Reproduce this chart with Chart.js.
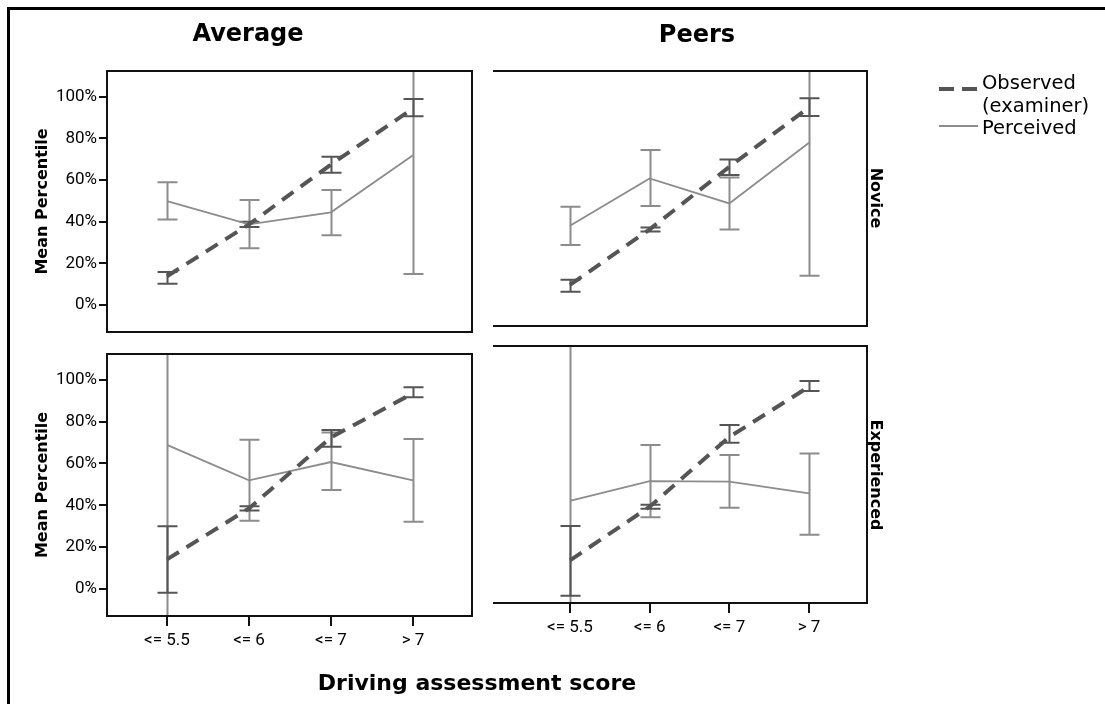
<!DOCTYPE html>
<html>
<head>
<meta charset="utf-8">
<title>Mean percentile by driving assessment score</title>
<script src="https://cdn.jsdelivr.net/npm/chart.js@4.4.1/dist/chart.umd.min.js"></script>
<style>
  html, body { margin: 0; padding: 0; background: #fff; }
  #page {
    position: relative;
    width: 1105px;
    height: 704px;
    overflow: hidden;
    font-family: "DejaVu Sans", sans-serif;
    color: #000;
  }
  #page canvas { position: absolute; left: 0; top: 0; }
  .outer {
    position: absolute;
    left: 7px; top: 7px; right: 0; bottom: 0;
    border-top: 3px solid #000;
    border-left: 3px solid #000;
  }
  .txt {
    position: absolute;
    white-space: nowrap;
    line-height: 1;
    transform: translate(-50%, -50%);
  }
  .col-title { font-size: 24px; font-weight: bold; }
  .row-title { font-size: 16px; font-weight: bold; transform: translate(-50%, -50%) rotate(90deg); }
  .axis-title { font-size: 22px; font-weight: bold; }
  .legend-text { font-size: 19.5px; transform: translate(0, -50%); }
</style>
</head>
<body>
<div id="page">
  <div class="outer"></div>

  <canvas id="novice-average" width="1105" height="704"></canvas>
  <canvas id="novice-peers" width="1105" height="704"></canvas>
  <canvas id="experienced-average" width="1105" height="704"></canvas>
  <canvas id="experienced-peers" width="1105" height="704"></canvas>

  <div class="txt col-title" style="left:248px; top:33px;">Average</div>
  <div class="txt col-title" style="left:697px; top:34px;">Peers</div>
  <div class="txt row-title" style="left:876px; top:198px;">Novice</div>
  <div class="txt row-title" style="left:876px; top:475px;">Experienced</div>
  <div class="txt axis-title" style="left:477px; top:683px;">Driving assessment score</div>

  <svg style="position:absolute; left:937px; top:80px;" width="46" height="52">
    <line x1="2" y1="9" x2="41" y2="9" stroke="#555" stroke-width="4" stroke-dasharray="15 8"/>
    <line x1="2" y1="46" x2="41" y2="46" stroke="#8c8c8c" stroke-width="2"/>
  </svg>
  <div class="txt legend-text" style="left:982px; top:83px;">Observed</div>
  <div class="txt legend-text" style="left:982px; top:106px;">(examiner)</div>
  <div class="txt legend-text" style="left:982px; top:128px;">Perceived</div>
</div>

<script>
// Score bands along the x axis, percentile ticks on the y axis
const scoreBands = ['<= 5.5', '<= 6', '<= 7', '> 7'];
const percentTicks = [0, 20, 40, 60, 80, 100];

// Novice drivers compared with the average driver
const noviceAvgObserved   = [13.8, 38.7, 67.5, 94.4];
const noviceAvgObservedLo = [10.2, 37.5, 63.5, 90.7];
const noviceAvgObservedHi = [15.8, 40.0, 71.2, 99.0];
const noviceAvgPerceived   = [49.9, 38.7, 44.5, 71.9];
const noviceAvgPerceivedLo = [41.0, 27.2, 33.5, 14.9];
const noviceAvgPerceivedHi = [58.9, 50.4, 55.2, 128.9];

// Novice drivers compared with their peers
const novicePeerObserved   = [7.2, 34.5, 65.3, 94.5];
const novicePeerObservedLo = [3.8, 33.5, 61.2, 90.3];
const novicePeerObservedHi = [9.7, 35.5, 68.9, 99.0];
const novicePeerPerceived   = [36.3, 59.6, 47.3, 77.1];
const novicePeerPerceivedLo = [26.8, 46.0, 34.5, 11.7];
const novicePeerPerceivedHi = [45.6, 73.5, 60.0, 142.5];

// Experienced drivers compared with the average driver
const expAvgObserved   = [14.1, 38.5, 72.5, 93.6];
const expAvgObservedLo = [-1.9, 37.5, 68.0, 91.7];
const expAvgObservedHi = [30.0, 39.5, 76.0, 96.5];
const expAvgPerceived   = [68.9, 51.9, 60.7, 51.9];
const expAvgPerceivedLo = [-21.0, 32.6, 47.3, 32.1];
const expAvgPerceivedHi = [158.8, 71.3, 74.8, 71.7];

// Experienced drivers compared with their peers
const expPeerObserved   = [7.8, 34.0, 68.0, 92.5];
const expPeerObservedLo = [-9.5, 33.0, 65.2, 90.4];
const expPeerObservedHi = [24.6, 35.0, 73.8, 95.3];
const expPeerPerceived   = [36.8, 46.5, 46.2, 40.5];
const expPeerPerceivedLo = [-48.0, 28.8, 33.5, 20.3];
const expPeerPerceivedHi = [121.6, 64.1, 59.2, 60.0];

const FONT = 'DejaVu Sans';
const TICK_FONT = 'Roboto';
const OBSERVED_COLOR = '#555555';
const PERCEIVED_COLOR = '#8c8c8c';
const FRAME_COLOR = '#111111';

// Vertical error bars with caps, clipped to the plot box
const errorBars = {
    id: 'errorBars',
    beforeDatasetsDraw(chart) {
        const { ctx, chartArea } = chart;
        const xScale = chart.scales.x;
        const yScale = chart.scales.y;
        const clampY = (v) => Math.min(chartArea.bottom, Math.max(chartArea.top, yScale.getPixelForValue(v)));
        const capHalf = 10;

        // last dataset first so the observed bars sit on top
        for (let d = chart.data.datasets.length - 1; d >= 0; d--) {
            const ds = chart.data.datasets[d];
            if (!ds.errLo) continue;
            ctx.save();
            ctx.strokeStyle = ds.errColor;
            ctx.lineWidth = 2;
            ds.errLo.forEach((lo, i) => {
                const x = Math.round(xScale.getPixelForValue(i)) + 0.5;
                const yLo = clampY(lo);
                const yHi = clampY(ds.errHi[i]);
                ctx.beginPath();
                ctx.moveTo(x, yLo);
                ctx.lineTo(x, yHi);
                ctx.moveTo(x - capHalf, yLo);
                ctx.lineTo(x + capHalf, yLo);
                ctx.moveTo(x - capHalf, yHi);
                ctx.lineTo(x + capHalf, yHi);
                ctx.stroke();
            });
            ctx.restore();
        }
    }
};

// Box round the plot area; the right-hand column has no left edge
const panelFrame = {
    id: 'panelFrame',
    afterDraw(chart, args, opts) {
        const { ctx, chartArea: a } = chart;
        const sides = opts.sides || ['top', 'right', 'bottom', 'left'];
        ctx.save();
        ctx.strokeStyle = FRAME_COLOR;
        ctx.lineWidth = 2;
        ctx.beginPath();
        if (sides.includes('top'))    { ctx.moveTo(a.left, a.top);     ctx.lineTo(a.right, a.top); }
        if (sides.includes('right'))  { ctx.moveTo(a.right, a.top - 1); ctx.lineTo(a.right, a.bottom + 1); }
        if (sides.includes('bottom')) { ctx.moveTo(a.left, a.bottom);  ctx.lineTo(a.right, a.bottom); }
        if (sides.includes('left'))   { ctx.moveTo(a.left, a.top - 1); ctx.lineTo(a.left, a.bottom + 1); }
        ctx.stroke();
        ctx.restore();
    }
};

function toPoints(values) {
    return values.map((y, i) => ({ x: i, y: y }));
}

function createPanel(canvasId, series, layout) {
    const datasets = [
        {
            label: 'Observed (examiner)',
            data: toPoints(series.observed),
            borderColor: OBSERVED_COLOR,
            borderWidth: 4,
            borderDash: [14, 9],
            pointRadius: 0,
            tension: 0,
            errLo: series.observedLo,
            errHi: series.observedHi,
            errColor: OBSERVED_COLOR
        },
        {
            label: 'Perceived',
            data: toPoints(series.perceived),
            borderColor: PERCEIVED_COLOR,
            borderWidth: 1.8,
            pointRadius: 0,
            tension: 0,
            errLo: series.perceivedLo,
            errHi: series.perceivedHi,
            errColor: PERCEIVED_COLOR
        }
    ];

    const tickGrid = {
        display: true,
        drawOnChartArea: false,
        drawTicks: true,
        color: FRAME_COLOR,
        lineWidth: 2
    };

    const config = {
        type: 'line',
        data: { datasets: datasets },
        options: {
            responsive: false,
            animation: false,
            events: [],
            layout: { padding: layout.padding },
            plugins: {
                legend: { display: false },
                tooltip: { enabled: false },
                panelFrame: { sides: layout.sides }
            },
            scales: {
                x: {
                    type: 'linear',
                    display: layout.showX,
                    min: layout.xMin,
                    max: layout.xMax,
                    afterBuildTicks: (scale) => {
                        scale.ticks = scoreBands.map((_, i) => ({ value: i }));
                    },
                    afterFit: (scale) => { scale.height = layout.showX ? 40 : 0; },
                    ticks: {
                        callback: (value) => scoreBands[value],
                        font: { family: TICK_FONT, size: 17 },
                        color: '#000',
                        padding: 5,
                        maxRotation: 0,
                        autoSkip: false
                    },
                    grid: Object.assign({}, tickGrid, { tickLength: 10 }),
                    border: { display: false }
                },
                y: {
                    type: 'linear',
                    display: layout.showY,
                    min: -13,
                    max: 112.4,
                    afterBuildTicks: (scale) => {
                        scale.ticks = percentTicks.map(v => ({ value: v }));
                    },
                    afterFit: (scale) => { scale.width = layout.showY ? 87 : 0; },
                    ticks: {
                        callback: (value) => value + '%',
                        font: { family: TICK_FONT, size: 17 },
                        color: '#000',
                        padding: 2
                    },
                    grid: Object.assign({}, tickGrid, { tickLength: 8 }),
                    border: { display: false },
                    title: {
                        display: true,
                        text: 'Mean Percentile',
                        color: '#000',
                        font: { family: FONT, size: 16, weight: 'bold' },
                        padding: { top: 13, bottom: 0 }
                    }
                }
            }
        },
        plugins: [errorBars, panelFrame]
    };

    return new Chart(document.getElementById(canvasId), config);
}

// Left column: plot box 107..472, right column: 493..867
const leftColumn = { xMin: -0.732, xMax: 3.72, showY: true };
const rightColumn = { xMin: -0.966, xMax: 3.728, showY: false, sides: ['top', 'right', 'bottom'] };

createPanel('novice-average', {
    observed: noviceAvgObserved, observedLo: noviceAvgObservedLo, observedHi: noviceAvgObservedHi,
    perceived: noviceAvgPerceived, perceivedLo: noviceAvgPerceivedLo, perceivedHi: noviceAvgPerceivedHi
}, Object.assign({}, leftColumn, {
    showX: false,
    padding: { left: 20, top: 71, right: 633, bottom: 372 }
}));

createPanel('novice-peers', {
    observed: novicePeerObserved, observedLo: novicePeerObservedLo, observedHi: novicePeerObservedHi,
    perceived: novicePeerPerceived, perceivedLo: novicePeerPerceivedLo, perceivedHi: novicePeerPerceivedHi
}, Object.assign({}, rightColumn, {
    showX: false,
    padding: { left: 493, top: 71, right: 238, bottom: 378 }
}));

createPanel('experienced-average', {
    observed: expAvgObserved, observedLo: expAvgObservedLo, observedHi: expAvgObservedHi,
    perceived: expAvgPerceived, perceivedLo: expAvgPerceivedLo, perceivedHi: expAvgPerceivedHi
}, Object.assign({}, leftColumn, {
    showX: true,
    padding: { left: 20, top: 354, right: 633, bottom: 48 }
}));

createPanel('experienced-peers', {
    observed: expPeerObserved, observedLo: expPeerObservedLo, observedHi: expPeerObservedHi,
    perceived: expPeerPerceived, perceivedLo: expPeerPerceivedLo, perceivedHi: expPeerPerceivedHi
}, Object.assign({}, rightColumn, {
    showX: true,
    padding: { left: 493, top: 346, right: 238, bottom: 61 }
}));
</script>
</body>
</html>
